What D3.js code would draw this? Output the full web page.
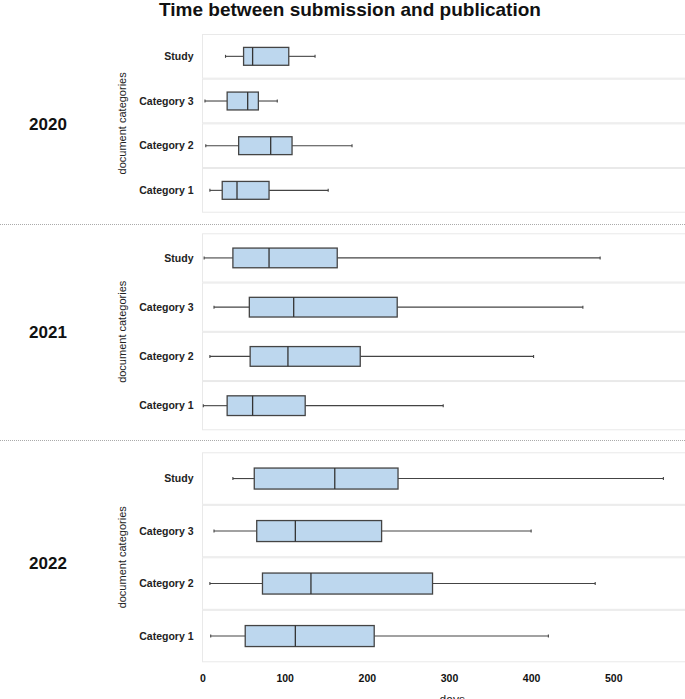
<!DOCTYPE html>
<html>
<head>
<meta charset="utf-8">
<script src="https://cdn.jsdelivr.net/npm/d3@7"></script>
<style>
  body { margin: 0; background: #fff; }
  svg { display: block; font-family: "Liberation Sans", Arial, sans-serif; }
</style>
</head>
<body>
<script>
// box stats per row: [whisker low, Q1, median, Q3, whisker high] in days
const years = ["2020", "2021", "2022"];
const categories = ["Study", "Category 3", "Category 2", "Category 1"];
const stats2020 = [
  [28, 50, 61, 105, 137],
  [3, 30, 55, 68, 91],
  [4, 44, 83, 109, 182],
  [9, 24, 42, 81, 153]
];
const stats2021 = [
  [2, 37, 81, 164, 484],
  [14, 57, 111, 237, 463],
  [9, 58, 104, 192, 403],
  [1, 30, 61, 125, 293]
];
const stats2022 = [
  [37, 63, 161, 238, 561],
  [14, 66, 113, 218, 400],
  [9, 73, 132, 280, 478],
  [10, 52, 113, 209, 421]
];
const xTicks = [0, 100, 200, 300, 400, 500];
const statsByYear = [stats2020, stats2021, stats2022];

const width = 685, height = 699;
const boxFill = "#bdd7ee", ink = "#444";

// vertical extent of each year's facet block
const blocks = [
  {top: 34, bottom: 212.7, label: 124},
  {top: 233.3, bottom: 430.3, label: 332},
  {top: 452.3, bottom: 662.3, label: 563}
];
const dividers = [224.5, 440.5];

const x = d3.scaleLinear().domain([0, 608]).range([202.5, 702]);

const svg = d3.select("body").append("svg")
  .attr("width", width)
  .attr("height", height)
  .attr("viewBox", [0, 0, width, height]);

svg.append("text")
  .attr("x", 350)
  .attr("y", 15.5)
  .attr("text-anchor", "middle")
  .attr("font-size", 19)
  .attr("font-weight", "bold")
  .attr("fill", "#111")
  .text("Time between submission and publication");

svg.append("g")
  .selectAll("line")
  .data(dividers)
  .join("line")
  .attr("x1", 0)
  .attr("x2", width)
  .attr("y1", d => d)
  .attr("y2", d => d)
  .attr("stroke", "#aaa")
  .attr("stroke-width", 1)
  .attr("stroke-dasharray", "1,1");

years.forEach((year, yi) => {
  const b = blocks[yi];
  const rows = categories.map((c, i) => ({cat: c, s: statsByYear[yi][i]}));

  const y = d3.scaleBand()
    .domain(categories)
    .range([b.top, b.bottom])
    .paddingInner(0);

  const g = svg.append("g");

  // row panels
  g.selectAll("rect.panel")
    .data(rows)
    .join("rect")
    .attr("class", "panel")
    .attr("x", x(0))
    .attr("y", d => y(d.cat) + 0.5)
    .attr("width", x.range()[1] - x(0))
    .attr("height", y.bandwidth() - 1)
    .attr("fill", "#fff")
    .attr("stroke", "#e9e9e9")
    .attr("stroke-width", 1);

  const bh = y.bandwidth() * 0.4;
  const row = g.selectAll("g.row")
    .data(rows)
    .join("g")
    .attr("class", "row")
    .attr("transform", d => `translate(0,${y(d.cat) + y.bandwidth() / 2})`);

  // whiskers
  row.append("line")
    .attr("x1", d => x(d.s[0]))
    .attr("x2", d => x(d.s[1]))
    .attr("stroke", ink).attr("stroke-width", 1.1);
  row.append("line")
    .attr("x1", d => x(d.s[3]))
    .attr("x2", d => x(d.s[4]))
    .attr("stroke", ink).attr("stroke-width", 1.1);
  // whisker caps
  row.selectAll("line.cap")
    .data(d => [d.s[0], d.s[4]])
    .join("line")
    .attr("class", "cap")
    .attr("x1", d => x(d)).attr("x2", d => x(d))
    .attr("y1", -1.5).attr("y2", 1.5)
    .attr("stroke", ink).attr("stroke-width", 1.1);

  // box
  row.append("rect")
    .attr("x", d => x(d.s[1]))
    .attr("y", -bh / 2)
    .attr("width", d => x(d.s[3]) - x(d.s[1]))
    .attr("height", bh)
    .attr("fill", boxFill)
    .attr("stroke", ink)
    .attr("stroke-width", 1.3);
  // median
  row.append("line")
    .attr("x1", d => x(d.s[2]))
    .attr("x2", d => x(d.s[2]))
    .attr("y1", -bh / 2).attr("y2", bh / 2)
    .attr("stroke", "#333").attr("stroke-width", 1.3);

  // category labels
  g.selectAll("text.cat")
    .data(categories)
    .join("text")
    .attr("class", "cat")
    .attr("x", 193.5)
    .attr("y", d => y(d) + y.bandwidth() / 2)
    .attr("dy", "0.35em")
    .attr("text-anchor", "end")
    .attr("font-size", 10.5)
    .attr("font-weight", "bold")
    .attr("fill", "#222")
    .text(d => d);

  // y axis title
  g.append("text")
    .attr("transform", `translate(126,${(b.top + b.bottom) / 2}) rotate(-90)`)
    .attr("text-anchor", "middle")
    .attr("font-size", 11)
    .attr("fill", "#222")
    .text("document categories");

  // year label
  g.append("text")
    .attr("x", 48)
    .attr("y", b.label)
    .attr("dy", "0.35em")
    .attr("text-anchor", "middle")
    .attr("font-size", 17)
    .attr("font-weight", "bold")
    .attr("fill", "#111")
    .text(year);
});

// x axis under last block
const axis = svg.append("g")
  .attr("transform", `translate(0,${blocks[2].bottom})`)
  .call(d3.axisBottom(x).tickValues(xTicks).tickSize(0).tickPadding(12));
axis.select(".domain").remove();
axis.selectAll("text")
  .attr("font-family", "Liberation Sans, Arial, sans-serif")
  .attr("font-size", 10.5)
  .attr("font-weight", "bold")
  .attr("fill", "#111");

svg.append("text")
  .attr("x", (x.range()[0] + x.range()[1]) / 2)
  .attr("y", 704)
  .attr("text-anchor", "middle")
  .attr("font-size", 12)
  .attr("fill", "#222")
  .text("days");
</script>
</body>
</html>
